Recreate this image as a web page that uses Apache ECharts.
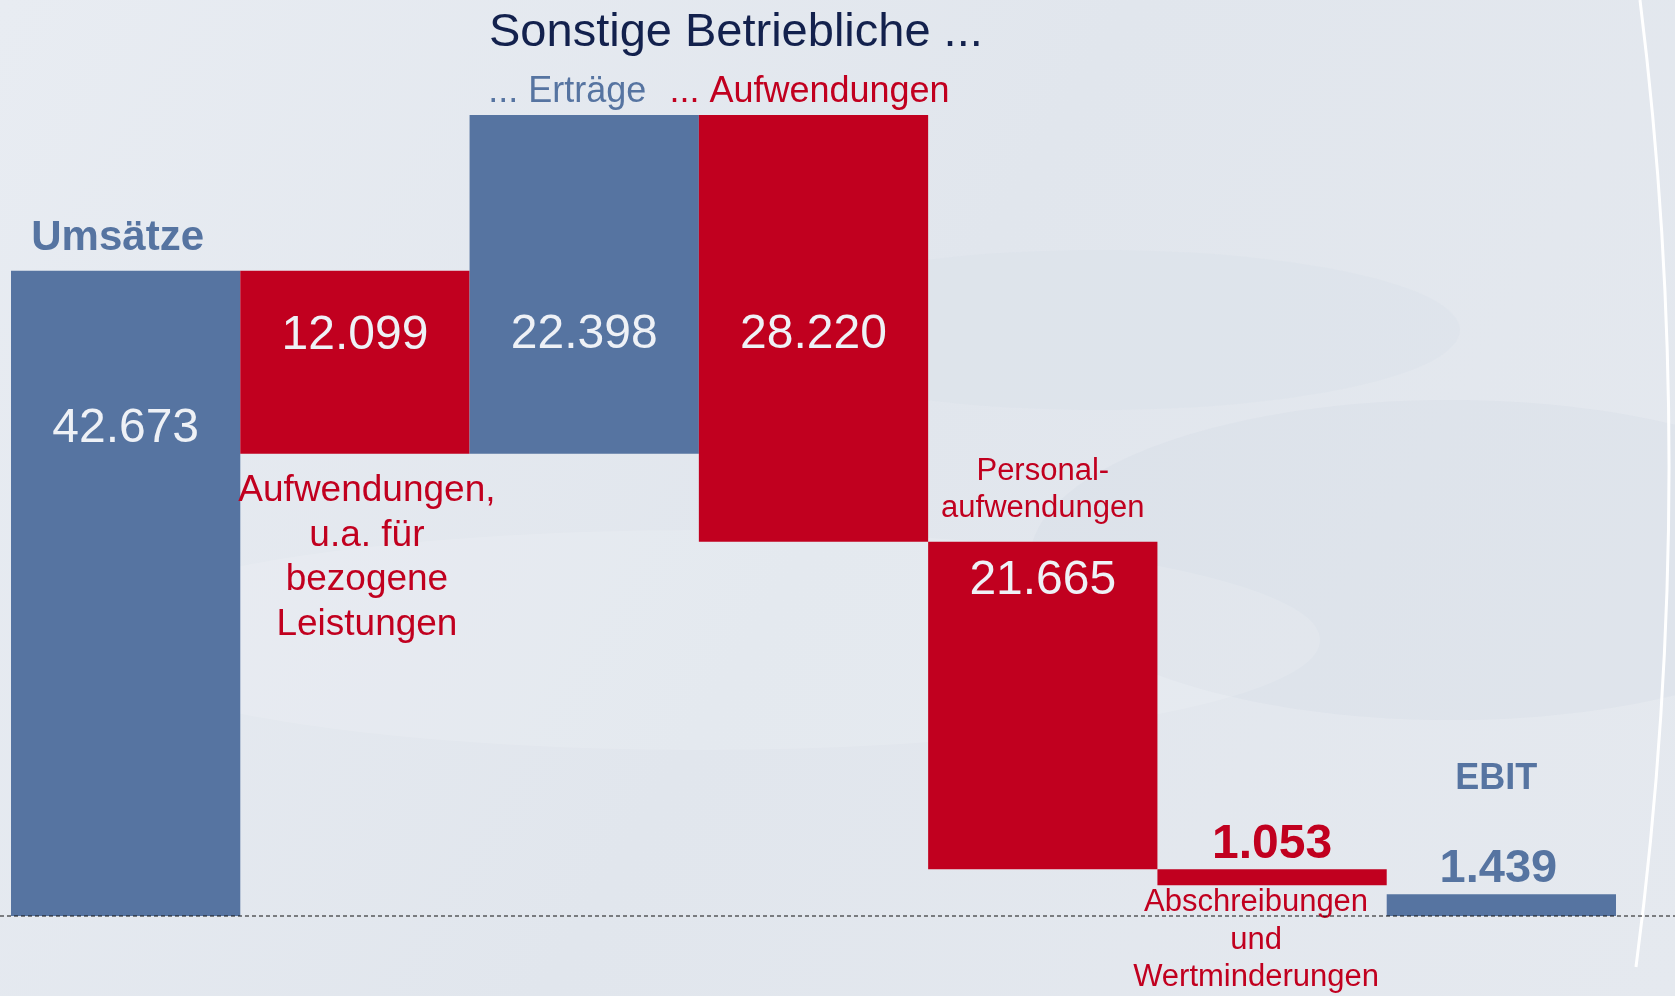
<!DOCTYPE html>
<html>
<head>
<meta charset="utf-8">
<script src="https://cdn.jsdelivr.net/npm/echarts@6/dist/echarts.min.js"></script>
<style>
html, body { margin: 0; padding: 0; }
#chart { width: 1675px; height: 996px; }
</style>
</head>
<body>
<div id="chart"></div>
<script>
// Daten (Tsd. EUR)
var categories = ['Umsätze', 'Bezogene Leistungen', 'Sonstige betr. Erträge', 'Sonstige betr. Aufwendungen',
	'Personalaufwendungen', 'Abschreibungen', 'EBIT'];
var values = [42673, 12099, 22398, 28220, 21665, 1053, 1439];
var kinds = ['total', 'minus', 'plus', 'minus', 'minus', 'minus', 'total'];
var valueLabels = ['42.673', '12.099', '22.398', '28.220', '21.665', '1.053', '1.439'];
var notes = ['Umsätze', 'Aufwendungen,\nu.a. für\nbezogene\nLeistungen', '... Erträge', '... Aufwendungen',
	'Personal-\naufwendungen', 'Abschreibungen\nund\nWertminderungen', 'EBIT'];

var BLUE = '#5674a1';
var RED = '#c1001f';
var FONT = "'Liberation Sans', Arial, sans-serif";

// Basis (unsichtbar) + sichtbarer Teil
var base = [];
var running = 0, peak = 0;
for (var i = 0; i < values.length; i++) {
	if (kinds[i] === 'total') {
		base.push(0);
		running = values[i];
	} else if (kinds[i] === 'plus') {
		base.push(running);
		running += values[i];
	} else {
		running -= values[i];
		base.push(running);
	}
	if (running > peak) peak = running;
}

// Label-Layout (Abstand zur Balkenoberkante in px)
var valueY = [158, 65, 220, 220, 39, -25, -25];
var valueX = [0, 0, 0, 0, 0, 0, -3];
var noteY = [-32, 287, -23, -23, -52, 71, -115];
var noteX = [-8, 12, -17, -4, 0, -16, -5];

function valueStyle(i) {
	if (i === 5) return { color: RED, fontSize: 48, fontWeight: 'bold' };
	if (i === 6) return { color: BLUE, fontSize: 47, fontWeight: 'bold' };
	return { color: '#eef1f6', fontSize: 48, fontWeight: 'normal' };
}
function noteStyle(i) {
	if (i === 0) return { color: BLUE, fontSize: 42, fontWeight: 'bold' };
	if (i === 6) return { color: BLUE, fontSize: 36, fontWeight: 'bold' };
	if (i === 1) return { color: RED, fontSize: 37, lineHeight: 44.5 };
	if (i === 2) return { color: BLUE, fontSize: 36 };
	if (i === 3) return { color: RED, fontSize: 36 };
	return { color: RED, fontSize: 31, lineHeight: 37.5 };
}

var barData = values.map(function (v, i) {
	var s = noteStyle(i);
	return {
		value: v,
		itemStyle: { color: kinds[i] === 'minus' ? RED : BLUE },
		label: {
			show: true,
			formatter: notes[i],
			position: ['50%', noteY[i]],
			offset: [noteX[i], 0],
			align: 'center',
			verticalAlign: 'middle',
			color: s.color,
			fontSize: s.fontSize,
			fontWeight: s.fontWeight || 'normal',
			lineHeight: s.lineHeight,
			fontFamily: FONT
		}
	};
});

var capData = values.map(function (v, i) {
	var s = valueStyle(i);
	return {
		value: 0,
		label: {
			show: true,
			formatter: valueLabels[i],
			position: ['50%', valueY[i]],
			offset: [valueX[i], 0],
			align: 'center',
			verticalAlign: 'middle',
			color: s.color,
			fontSize: s.fontSize,
			fontWeight: s.fontWeight,
			fontFamily: FONT
		}
	};
});

var option = {
	animation: false,
	backgroundColor: {
		type: 'linear', x: 0, y: 0, x2: 1, y2: 1,
		colorStops: [
			{ offset: 0, color: '#e8ecf2' },
			{ offset: 0.5, color: '#e1e6ed' },
			{ offset: 1, color: '#e5e9ef' }
		]
	},
	title: {
		text: 'Sonstige Betriebliche ...',
		left: 484,
		top: 5,
		textStyle: { color: '#13214d', fontSize: 47, fontWeight: 'normal', fontFamily: FONT }
	},
	grid: { left: 11, right: 59, top: 115, bottom: 80 },
	xAxis: {
		type: 'category',
		data: categories,
		show: false
	},
	yAxis: {
		type: 'value',
		min: 0,
		max: peak,
		show: false
	},
	graphic: [
		{ type: 'ellipse', z: -10, silent: true, shape: { cx: 1450, cy: 560, rx: 420, ry: 160 },
			style: { fill: 'rgba(208,215,226,0.25)' } },
		{ type: 'ellipse', z: -10, silent: true, shape: { cx: 700, cy: 640, rx: 620, ry: 110 },
			style: { fill: 'rgba(255,255,255,0.12)' } },
		{ type: 'ellipse', z: -10, silent: true, shape: { cx: 1100, cy: 330, rx: 360, ry: 80 },
			style: { fill: 'rgba(212,219,229,0.2)' } },
		{ type: 'bezierCurve', z: 5, silent: true,
			shape: { x1: 1640, y1: 0, cpx1: 1700, cpy1: 480, x2: 1636, y2: 967 },
			style: { stroke: '#ffffff', lineWidth: 3, fill: null } },
		{ type: 'line', z: 50, silent: true,
			shape: { x1: 0, y1: 916, x2: 1675, y2: 916 },
			style: { stroke: '#111', lineWidth: 1, lineDash: [4, 3] } }
	],
	series: [
		{
			name: 'Basis',
			type: 'bar',
			stack: 'w',
			stackStrategy: 'all',
			barCategoryGap: '0%',
			itemStyle: { color: 'transparent' },
			silent: true,
			data: base
		},
		{
			name: 'Wert',
			type: 'bar',
			stack: 'w',
			stackStrategy: 'all',
			barCategoryGap: '0%',
			data: barData
		},
		{
			name: 'Beschriftung',
			type: 'bar',
			stack: 'w',
			stackStrategy: 'all',
			barCategoryGap: '0%',
			itemStyle: { color: 'transparent' },
			silent: true,
			z: 10,
			data: capData
		}
	]
};

var myChart = echarts.init(document.getElementById('chart'));
myChart.setOption(option);
</script>
</body>
</html>
